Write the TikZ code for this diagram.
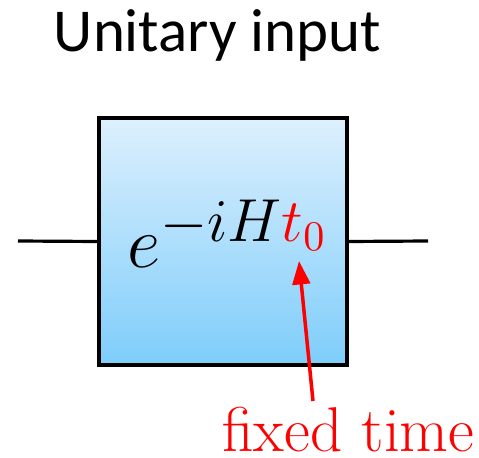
\documentclass[tikz,border=0pt]{standalone}
\usepackage{graphicx}
\usepackage{fontspec}
\newfontfamily\titlefont{Carlito}
\usetikzlibrary{arrows.meta}
\definecolor{boxtop}{RGB}{221,240,253}
\definecolor{boxbot}{RGB}{126,205,251}
\definecolor{tred}{RGB}{255,0,0}
\begin{document}
\begin{tikzpicture}[x=0.03cm,y=-0.03cm,
  wire/.style={line width=3.2pt*0.85},
  gatebox/.style={draw=black,line width=4*0.8535pt,top color=boxtop,bottom color=boxbot,minimum width=248*0.8535pt,minimum height=247*0.8535pt,inner sep=0pt},
  pointer/.style={draw=tred,line width=3.5*0.8535pt,-{Triangle[length=20pt,width=15pt]}}]
\useasboundingbox (0,0) rectangle (479,458);
\node[anchor=base,font=\titlefont\fontsize{52}{60}\selectfont] (title) at (217.5,52) {Unitary input};
\node[gatebox] (gate) at (223,241.5) {};
\coordinate (win) at (18,241);
\coordinate (wout) at (428,241);
\draw[wire] (win) -- (gate.west);
\draw[wire] (gate.east) -- (wout);
\node[anchor=base west,inner sep=0pt,font=\fontsize{20}{24}\selectfont] (expr) at (127,268) {\scalebox{3}{$e^{\scalebox{1.2}{$\scriptstyle -iH\textcolor{tred}{t_0}$}}$}};
\node[anchor=base west,inner sep=0pt,text=tred,font=\fontsize{54}{62}\selectfont] (label) at (222,451) {fixed time};
\coordinate (tail) at (313,401);
\coordinate (tip) at (299,261);
\draw[pointer] (tail) -- (tip);
\end{tikzpicture}
\end{document}
